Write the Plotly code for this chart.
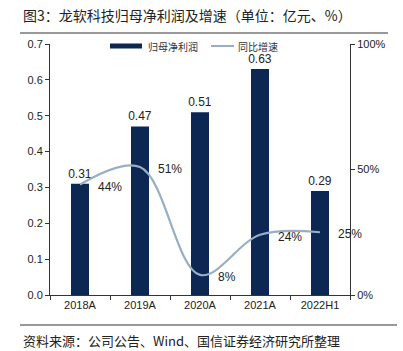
import plotly.graph_objects as go

categories = ["2018A", "2019A", "2020A", "2021A", "2022H1"]
profit = [0.31, 0.47, 0.51, 0.63, 0.29]
growth = [44, 51, 8, 24, 25]
profit_labels = ["0.31", "0.47", "0.51", "0.63", "0.29"]
growth_labels = ["44%", "51%", "8%", "24%", "25%"]

W, H = 403, 351
L, R, T, B = 50, 53, 44, 56
pw, ph = W - L - R, H - T - B

def px(x):
    return (x - L) / pw

def py(y):
    return (H - B - y) / ph

fig = go.Figure()
fig.add_trace(go.Bar(
    x=categories, y=profit, name="归母净利润",
    marker=dict(color="#0B2752", line=dict(width=0)),
    width=0.3,
    text=profit_labels, textposition="outside", cliponaxis=False, constraintext="none",
    textfont=dict(size=12, color="#222", family="Liberation Sans, Arial"),
))
fig.add_trace(go.Scatter(
    x=categories, y=growth, name="同比增速", yaxis="y2",
    mode="lines", line=dict(color="#98AEC4", width=2.2, shape="spline", smoothing=1.0),
    cliponaxis=False,
))

annotations = []
for c, g, t in zip(categories, growth, growth_labels):
    annotations.append(dict(x=c, y=g, xref="x", yref="y2", text=t, showarrow=False,
                            xanchor="left", yanchor="middle", xshift=16, yshift=-2,
                            font=dict(size=12, color="#222", family="Liberation Sans, Arial")))

axis_font = dict(size=11, color="#222", family="Liberation Sans, Arial")
legend_font = dict(size=10, color="#333", family="Noto Sans CJK SC")
annotations += [
    dict(text="图3：龙软科技归母净利润及增速（单位：亿元、%）", xref="paper", yref="paper",
         x=px(21), y=py(15), xanchor="left", yanchor="middle", showarrow=False,
         font=dict(size=14, color="#222", family="Noto Sans CJK SC")),
    dict(text="资料来源：公司公告、Wind、国信证券经济研究所整理", xref="paper", yref="paper",
         x=px(21), y=py(340), xanchor="left", yanchor="middle", showarrow=False,
         font=dict(size=13, color="#222", family="Noto Sans CJK SC")),
    dict(text="归母净利润", xref="paper", yref="paper", x=px(146), y=py(46),
         xanchor="left", yanchor="middle", showarrow=False, font=legend_font),
    dict(text="同比增速", xref="paper", yref="paper", x=px(236), y=py(46),
         xanchor="left", yanchor="middle", showarrow=False, font=legend_font),
]

fig.update_layout(
    width=W, height=H,
    margin=dict(l=L, r=R, t=T, b=B),
    paper_bgcolor="white", plot_bgcolor="white",
    showlegend=False,
    xaxis=dict(range=[-0.5, 4.5], showline=True, linecolor="#333", linewidth=1, ticks="outside",
               ticklen=4, tickcolor="#333", tickson="boundaries", showgrid=False,
               tickfont=axis_font, automargin=False),
    yaxis=dict(range=[0, 0.7], dtick=0.1, tickformat=".1f", showline=True, linecolor="#333",
               linewidth=1, ticks="outside", ticklen=4, tickcolor="#333", showgrid=False,
               zeroline=False, tickfont=axis_font, automargin=False),
    yaxis2=dict(range=[0, 100], dtick=50, ticksuffix="%", overlaying="y", side="right",
                showline=True, linecolor="#333", linewidth=1, ticks="outside", ticklen=4,
                tickcolor="#333", showgrid=False, zeroline=False, tickfont=axis_font,
                automargin=False),
    font=dict(family="Noto Sans CJK SC"),
    annotations=annotations,
    shapes=[
        dict(type="line", xref="paper", yref="paper", x0=px(20), x1=px(388), y0=py(33), y1=py(33),
             line=dict(color="#777", width=1.5)),
        dict(type="line", xref="paper", yref="paper", x0=px(20), x1=px(397), y0=py(325), y1=py(325),
             line=dict(color="#777", width=1.5)),
        dict(type="rect", xref="paper", yref="paper", x0=px(110), x1=px(142), y0=py(48.5), y1=py(43.5),
             fillcolor="#0B2752", line=dict(width=0)),
        dict(type="line", xref="paper", yref="paper", x0=px(211), x1=px(234), y0=py(46), y1=py(46),
             line=dict(color="#98AEC4", width=2)),
    ],
)

fig.write_html("out.html")
